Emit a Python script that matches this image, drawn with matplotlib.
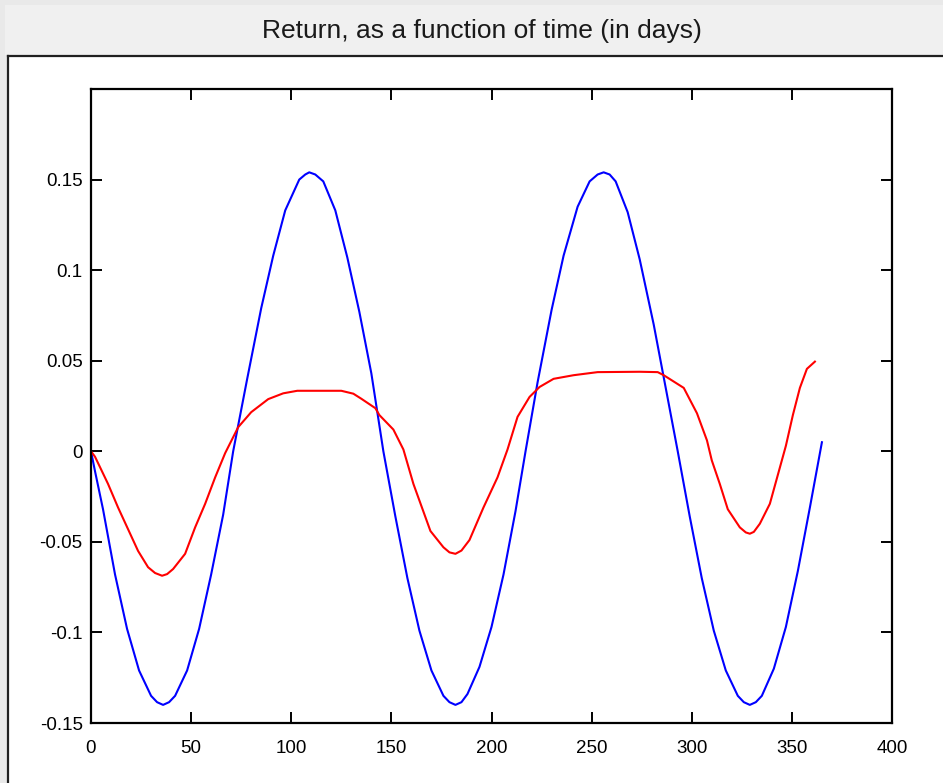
import matplotlib
matplotlib.use("Agg")
import matplotlib.pyplot as plt
from matplotlib.patches import Rectangle
from matplotlib.lines import Line2D

# values (day, return)
blue_days = [0, 2, 6, 12, 18, 24, 30, 33, 36, 39, 42, 48, 54, 60, 66, 71,
             78, 85, 91, 97, 104, 107, 109, 112, 116, 122, 128, 134, 140, 146,
             152, 158, 164, 170, 176, 179, 182, 185, 188, 194, 200, 206, 212, 217,
             223, 230, 236, 243, 249, 253, 256, 259, 262, 268, 274, 281, 287, 293,
             299, 305, 311, 317, 323, 326, 329, 332, 335, 341, 347, 353, 359, 365]
blue_vals = [0.0, -0.011, -0.032, -0.068, -0.098, -0.121, -0.135, -0.1385, -0.140, -0.1385,
             -0.135, -0.121, -0.098, -0.068, -0.035, 0.0,
             0.040, 0.079, 0.108, 0.133, 0.150, 0.1528, 0.154, 0.1528,
             0.149, 0.133, 0.107, 0.077, 0.043, 0.0,
             -0.036, -0.070, -0.099, -0.121, -0.135, -0.1385, -0.140, -0.1385,
             -0.134, -0.119, -0.097, -0.068, -0.033, 0.0,
             0.038, 0.078, 0.108, 0.135, 0.149, 0.1528, 0.154, 0.1528,
             0.149, 0.132, 0.106, 0.070, 0.035, 0.0,
             -0.036, -0.070, -0.099, -0.121, -0.135, -0.1385, -0.140, -0.1385,
             -0.135, -0.120, -0.097, -0.066, -0.031, 0.005]

red_days = [0, 2, 8.5, 13.5, 18.5, 23.5, 28.5, 32, 35.5, 38, 41, 47, 52, 57, 62, 67,
            73.5, 80, 88.5, 96, 103, 115, 125, 131, 135, 142, 144, 151, 156, 161,
            169.5, 176, 179, 182, 185, 189, 196, 203, 208, 213, 219, 224, 231, 241, 253,
            274, 283, 286, 291, 296, 302.6, 307.6, 310, 314, 318, 324, 327, 329, 331, 334,
            339, 343, 347, 350.5, 354, 357.5, 361.5]
red_vals = [0.0, -0.003, -0.018, -0.031, -0.043, -0.055, -0.064, -0.0672, -0.0687, -0.0678,
            -0.065, -0.0566, -0.042, -0.029, -0.0144, -0.001,
            0.0133, 0.0216, 0.0288, 0.032, 0.0334, 0.0334, 0.0334, 0.0318, 0.029,
            0.0238, 0.020, 0.012, 0.001, -0.018,
            -0.044, -0.053, -0.0558, -0.0566, -0.0548, -0.049, -0.031, -0.0144, 0.001, 0.019,
            0.030, 0.0355, 0.040, 0.042, 0.0437,
            0.0439, 0.0437, 0.042, 0.0385, 0.035, 0.021, 0.006, -0.005, -0.018,
            -0.032, -0.042, -0.0448, -0.0455, -0.0445, -0.040,
            -0.029, -0.013, 0.003, 0.020, 0.035, 0.0455, 0.0495]

x_ticks = [0, 50, 100, 150, 200, 250, 300, 350, 400]
y_ticks = [-0.15, -0.1, -0.05, 0, 0.05, 0.1, 0.15]
y_tick_labels = ["-0.15", "-0.1", "-0.05", "0", "0.05", "0.1", "0.15"]
title = "Return, as a function of time (in days)"

W, H = 943, 783
plt.rcParams['font.family'] = ['Liberation Sans', 'DejaVu Sans']

fig = plt.figure(figsize=(W / 100, H / 100), dpi=100, facecolor='#e9e9e9')


def box(x0, y0, x1, y1, color):
    # rectangle given in pixel coords from the top-left corner
    fig.add_artist(Rectangle((x0 / W, 1 - y1 / H), (x1 - x0) / W, (y1 - y0) / H,
                             transform=fig.transFigure, facecolor=color,
                             edgecolor='none', zorder=0))


box(5, 5, W, 55, '#f0f0f0')
box(8, 56, W, H, 'white')
fig.add_artist(Line2D([8 / W, 1], [1 - 56 / H, 1 - 56 / H], transform=fig.transFigure,
                      color='#202020', lw=1.6))
fig.add_artist(Line2D([8 / W, 8 / W], [0, 1 - 56 / H], transform=fig.transFigure,
                      color='#202020', lw=1.6))

fig.text(481.5 / W, 1 - 31 / H, title, ha='center', va='center', fontsize=19,
         color='#1a1a1a')

ax = fig.add_axes([91 / W, 60 / H, 801 / W, 634 / H])
ax.plot(blue_days, blue_vals, color='#0000ff', lw=1.5)
ax.plot(red_days, red_vals, color='#ff0000', lw=1.5)

ax.set_xlim(0, 400)
ax.set_ylim(-0.15, 0.2)
ax.set_xticks(x_ticks)
ax.set_yticks(y_ticks)
ax.set_yticklabels(y_tick_labels)
ax.tick_params(direction='in', length=8, width=1.4, top=True, right=True,
               labelsize=13.5, colors='black')
ax.tick_params(axis='x', pad=12)
ax.tick_params(axis='y', pad=6)
for s in ax.spines.values():
    s.set_linewidth(1.6)

fig.savefig('out.png', dpi=100, facecolor=fig.get_facecolor())
